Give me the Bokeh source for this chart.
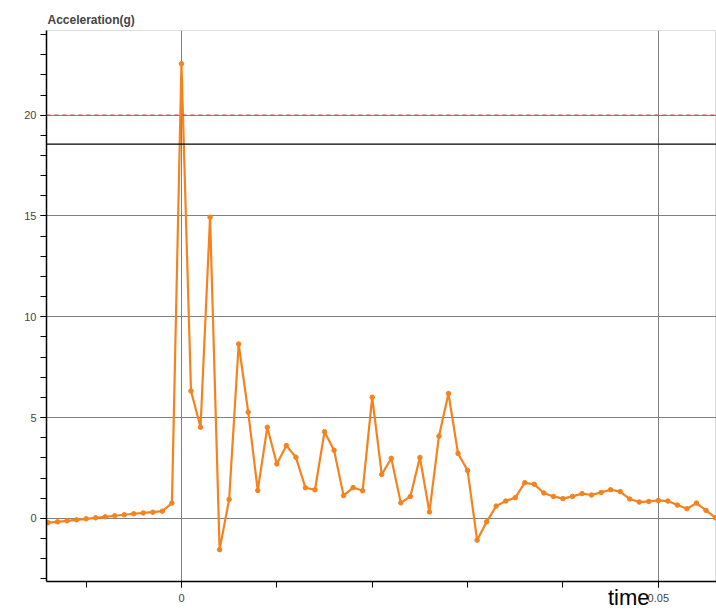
from bokeh.plotting import figure
from bokeh.models import (Range1d, SingleIntervalTicker, NumeralTickFormatter, Span,
                          ColumnDataSource, Title)
from bokeh.embed import file_html
from bokeh.resources import INLINE

# time (s)
time = [-0.014, -0.013, -0.012, -0.011, -0.010, -0.009, -0.008, -0.007, -0.006, -0.005,
        -0.004, -0.003, -0.002, -0.001,
        0.000, 0.001, 0.002, 0.003, 0.004, 0.005, 0.006, 0.007, 0.008, 0.009,
        0.010, 0.011, 0.012, 0.013, 0.014, 0.015, 0.016, 0.017, 0.018, 0.019,
        0.020, 0.021, 0.022, 0.023, 0.024, 0.025, 0.026, 0.027, 0.028, 0.029,
        0.030, 0.031, 0.032, 0.033, 0.034, 0.035, 0.036, 0.037, 0.038, 0.039,
        0.040, 0.041, 0.042, 0.043, 0.044, 0.045, 0.046, 0.047, 0.048, 0.049,
        0.050, 0.051, 0.052, 0.053, 0.054, 0.055, 0.056]

# acceleration (g)
accel = [-0.21, -0.17, -0.12, -0.07, -0.02, 0.03, 0.08, 0.13, 0.18, 0.23,
         0.27, 0.31, 0.36, 0.76,
         22.55, 6.32, 4.52, 14.94, -1.55, 0.94, 8.65, 5.27, 1.38, 4.52,
         2.70, 3.61, 3.03, 1.52, 1.42, 4.30, 3.38, 1.13, 1.53, 1.37,
         6.01, 2.18, 2.98, 0.77, 1.09, 3.02, 0.32, 4.08, 6.19, 3.22,
         2.38, -1.08, -0.17, 0.61, 0.86, 1.03, 1.77, 1.69, 1.26, 1.09,
         0.98, 1.09, 1.23, 1.16, 1.29, 1.42, 1.33, 0.96, 0.81, 0.84,
         0.89, 0.86, 0.66, 0.48, 0.76, 0.40, 0.03]

limit_line = 20.0
threshold_line = 18.56

src = ColumnDataSource(data=dict(t=time, a=accel))

p = figure(width=716, height=614, output_backend="svg", toolbar_location=None,
           x_range=Range1d(-0.01415, 0.0561), y_range=Range1d(-3.13, 24.2),
           min_border_left=46, min_border_right=0, min_border_top=30, min_border_bottom=33,
           title="Acceleration(g)")

p.title.text_font = "Liberation Sans"
p.title.text_font_size = "12px"
p.title.text_font_style = "bold"
p.title.text_color = "#444444"
p.title.offset = 1
p.title.standoff = 7

p.outline_line_color = "#dddddd"
p.background_fill_color = "white"
p.border_fill_color = "white"

p.xaxis.ticker = SingleIntervalTicker(interval=0.05, num_minor_ticks=5)
p.yaxis.ticker = SingleIntervalTicker(interval=5, num_minor_ticks=5)
p.xaxis.formatter = NumeralTickFormatter(format="0.[00]")

for ax in (p.xaxis, p.yaxis):
    ax.axis_line_color = "black"
    ax.axis_line_width = 1.5
    ax.major_tick_line_color = "black"
    ax.minor_tick_line_color = "black"
    ax.major_tick_in = 0
    ax.minor_tick_in = 0
    ax.major_tick_out = 6
    ax.minor_tick_out = 6
    ax.major_label_text_font = "Liberation Sans"
    ax.major_label_text_font_size = "11px"
    ax.major_label_text_color = "#444444"

p.xaxis.major_label_standoff = 6
p.yaxis.major_label_standoff = 4

# axis title "time": right-aligned under the x axis, level with the tick labels
time_title = Title(text="time", align="right", offset=67, standoff=-39,
                   vertical_align="top", text_font="Liberation Sans",
                   text_font_size="22px", text_font_style="normal", text_color="black")
p.add_layout(time_title, "below")

p.xgrid.grid_line_color = "#808080"
p.ygrid.grid_line_color = "#808080"
p.xgrid.grid_line_width = 1
p.ygrid.grid_line_width = 1

p.add_layout(Span(location=limit_line, dimension="width", line_color="#e8403a",
                  line_dash="4 4", line_width=1.2))
p.add_layout(Span(location=threshold_line, dimension="width", line_color="black",
                  line_width=1.2))

p.line("t", "a", source=src, line_color="#f5821f", line_width=2.2)
p.scatter("t", "a", source=src, size=4.5, fill_color="#f5821f", line_color="#f5821f")

open("out.html", "w").write(file_html(p, INLINE))
